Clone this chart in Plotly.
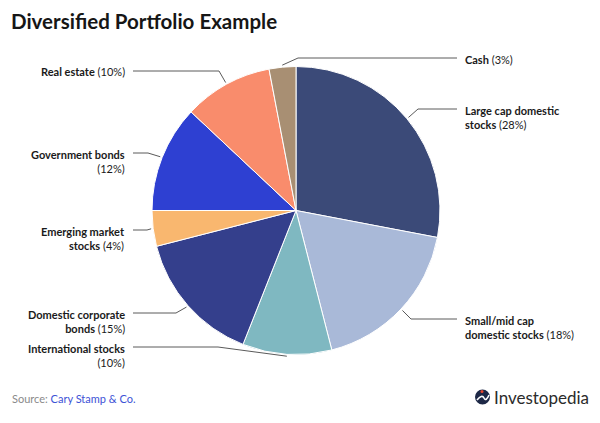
import math
import plotly.graph_objects as go

# chart data, clockwise from 12 o'clock
categories = ["Large cap domestic stocks", "Small/mid cap domestic stocks", "International stocks",
              "Domestic corporate bonds", "Emerging market stocks", "Government bonds",
              "Real estate", "Cash"]
shares = [28, 18, 10, 15, 4, 12, 10, 3]
colors = ["#3b4a78", "#a9b9d8", "#7fb8c1", "#343f8c", "#f9b76f", "#2e40d2", "#f98c6c", "#a88f73"]

# how each label wraps (bold part on line 1, bold part on line 2)
wraps = [("Large cap domestic", "stocks"), ("Small/mid cap", "domestic stocks"), ("International stocks", ""),
         ("Domestic corporate", "bonds"), ("Emerging market", "stocks"), ("Government bonds", ""),
         ("Real estate", None), ("Cash", None)]

W, H = 600, 423
CX, CY, R = 296, 210.5, 144

# label layout: side, label y (first line), elbow x, line end x
layout_pos = [
    ("right", 109, 418, 457),
    ("right", 319, 411, 457),
    ("left", 347, 218, 133),
    ("left", 313, 176, 133),
    ("left", 230, 147, 133),
    ("left", 153, 148, 133),
    ("left", 71, 219, 133),
    ("right", 58, 298, 457),
]


def px(x):
    return x / W


def py(y):
    return 1 - y / H


fig = go.Figure(go.Pie(
    labels=categories,
    values=shares,
    sort=False,
    direction="clockwise",
    rotation=0,
    textinfo="none",
    hoverinfo="label+percent",
    marker=dict(colors=colors, line=dict(color="white", width=1)),
    domain=dict(x=[px(CX - R), px(CX + R)], y=[py(CY + R), py(CY - R)]),
    showlegend=False,
))

shapes = []
annotations = []
total = sum(shares)
cum = 0
for cat, val, wrap, (side, ly, ex, endx) in zip(categories, shares, wraps, layout_pos):
    mid = (cum + val / 2) / total * 2 * math.pi
    cum += val
    sx = CX + (R + 2) * math.sin(mid)
    sy = CY - (R + 2) * math.cos(mid)
    path = f"M {px(sx)},{py(sy)} L {px(ex)},{py(ly)} L {px(endx)},{py(ly)}"
    shapes.append(dict(type="path", path=path, xref="paper", yref="paper",
                       line=dict(color="#5a5a5a", width=1)))

    first, second = wrap
    pct = f"({val}%)"
    if second is None:
        text = f"<b>{first}</b> {pct}"
    elif second == "":
        text = f"<b>{first}</b><br>{pct}"
    else:
        text = f"<b>{first}</b><br><b>{second}</b> {pct}"
    if side == "right":
        ax, xanchor, align = endx + 6, "left", "left"
    else:
        ax, xanchor, align = endx - 6, "right", "right"
    annotations.append(dict(
        x=px(ax), y=py(ly - 7.5), xref="paper", yref="paper",
        text=text, showarrow=False, xanchor=xanchor, yanchor="top", align=align,
        font=dict(family="Lato, sans-serif", size=11, color="#1a1a1a"),
    ))

# title, source, logo
annotations.append(dict(x=px(9), y=py(7), xref="paper", yref="paper", xanchor="left", yanchor="top",
                        text="<b>Diversified Portfolio Example</b>", showarrow=False,
                        font=dict(family="Lato, sans-serif", size=20.5, color="#161616")))
annotations.append(dict(x=px(10), y=py(398), xref="paper", yref="paper", xanchor="left", yanchor="middle",
                        text="<span style='color:#8a8a8a'>Source:</span> Cary Stamp &amp; Co.", showarrow=False,
                        font=dict(family="Lato, sans-serif", size=11, color="#3d52d6")))
annotations.append(dict(x=px(492), y=py(397), xref="paper", yref="paper", xanchor="left", yanchor="middle",
                        text="Investopedia", showarrow=False,
                        font=dict(family="Lato, sans-serif", size=17, color="#2b2b2b")))
shapes.append(dict(type="circle", xref="paper", yref="paper",
                   x0=px(475), x1=px(490), y0=py(404.5), y1=py(389.5),
                   fillcolor="#1d2846", line=dict(width=0)))
shapes.append(dict(type="path", xref="paper", yref="paper",
                   path=f"M {px(477)},{py(400)} Q {px(482)},{py(394)} {px(484)},{py(398)} T {px(489)},{py(395)}",
                   line=dict(color="white", width=1.6)))
shapes.append(dict(type="circle", xref="paper", yref="paper",
                   x0=px(480.5), x1=px(483.5), y0=py(393), y1=py(390),
                   fillcolor="#e8452c", line=dict(width=0)))

fig.update_layout(
    width=W, height=H,
    margin=dict(l=0, r=0, t=0, b=0),
    paper_bgcolor="white", plot_bgcolor="white",
    shapes=shapes, annotations=annotations,
)

fig.write_html("out.html", config={"displayModeBar": False},
               post_script="document.body.style.margin='0';")
